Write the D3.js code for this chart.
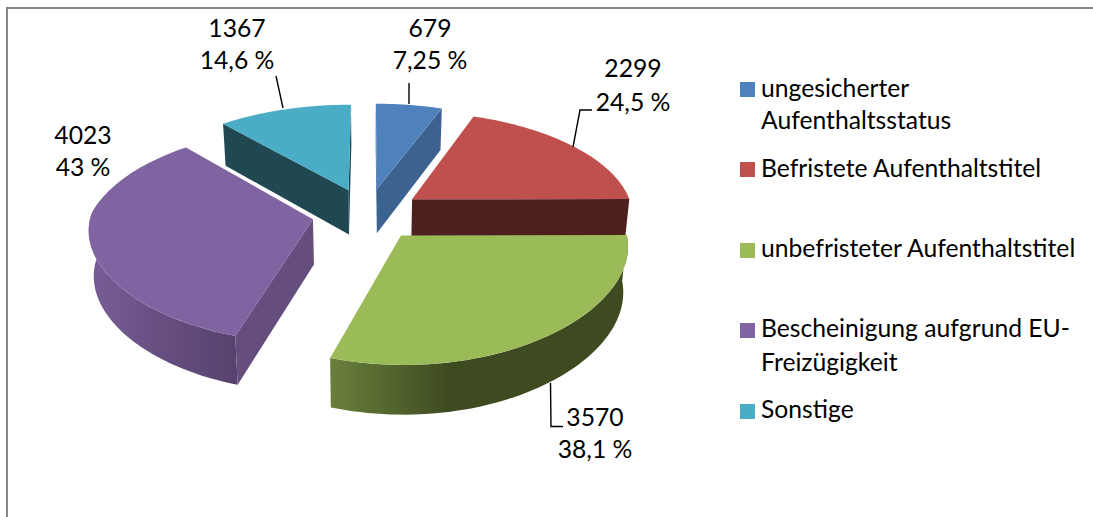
<!DOCTYPE html>
<html><head><meta charset="utf-8">
<script src="https://cdn.jsdelivr.net/npm/d3@7"></script>
<style>html,body{margin:0;padding:0;background:#fff}svg{display:block}text{font-family:Lato,"Open Sans",sans-serif;fill:#000}</style>
</head><body><svg id="c" width="1093" height="517"></svg>
<script>
const categories = ["ungesicherter Aufenthaltsstatus","Befristete Aufenthaltstitel","unbefristeter Aufenthaltstitel","Bescheinigung aufgrund EU-Freizügigkeit","Sonstige"];
const legendLines = [["ungesicherter","Aufenthaltsstatus"],["Befristete Aufenthaltstitel"],["unbefristeter Aufenthaltstitel"],["Bescheinigung aufgrund EU-","Freizügigkeit"],["Sonstige"]];
const values = [679,2299,3570,4023,1367];
const percentLabels = ["7,25 %","24,5 %","38,1 %","43 %","14,6 %"];
const topColors = ["#4f81bd","#c0504d","#9bbb59","#8064a2","#4bacc6"];
const wallColors = ["#3c6390","#4e1f1f","#3e4a20","#654e7e","#1f4852"];

const W=1093,H=517, FS=24.7;
const svg=d3.select("#c");
const defs=svg.append("defs");
// frame (open at right and bottom)
svg.append("path").attr("d",d3.line()([[7,H],[7,8],[W,8]])).attr("fill","none").attr("stroke","#868686").attr("stroke-width",2);

// projection of the exploded disc (disc units, radius 1)
const cx=367.5, cy=214, Rx=222, RyBack=105, RyFront=103, Py=0.15, PxBack=0.15, PxFront=0.085, EXPL=0.25, DEPTH=45, BOTTOM=0.982;
const sy=v=>1/(1-Py*v);
const sx=v=>1/(1-(v>0?PxFront:PxBack)*v);
const ry=v=>v<0?RyBack:RyFront;
const top3=(u,v)=>[cx+Rx*u*sx(v), cy+ry(v)*v*sy(v)];
const bot3=(u,v)=>[cx+Rx*u*sx(v)*BOTTOM, cy+ry(v)*v*sy(v)+DEPTH*Math.sqrt(sy(v))];

const arcs=d3.pie().sort(null).value(d=>d)(values);
const line=d3.line();
function sliceGeom(a){
  const mid=(a.startAngle+a.endAngle)/2;
  const ox=EXPL*Math.sin(mid), oy=-EXPL*Math.cos(mid);
  const pt=(th,r=1)=>[ox+r*Math.sin(th), oy-r*Math.cos(th)];
  const n=Math.max(4,Math.ceil((a.endAngle-a.startAngle)*40));
  const ths=d3.range(n+1).map(i=>a.startAngle+(a.endAngle-a.startAngle)*i/n);
  return {pt,ths,apex:pt(0,0)};
}
function radialWall(g,th,fill,parent){
  const A=g.apex,B=g.pt(th);
  parent.append("path").attr("d",line([top3(...A),top3(...B),bot3(...B),bot3(...A)])+"Z").attr("fill",fill);
}
function outerWall(g,from,to,fill,parent){
  const n=60, t=d3.range(n+1).map(i=>from+(to-from)*i/n);
  const up=t.map(th=>top3(...g.pt(th))), dn=t.map(th=>bot3(...g.pt(th))).reverse();
  parent.append("path").attr("d",line(up.concat(dn))+"Z").attr("fill",fill);
}
function topFace(g,fill,parent){
  const pts=[top3(...g.apex)].concat(g.ths.map(th=>top3(...g.pt(th))));
  parent.append("path").attr("d",line(pts)+"Z").attr("fill",fill);
}
function hGrad(id,x1,x2,stops){
  const gr=defs.append("linearGradient").attr("id",id).attr("gradientUnits","userSpaceOnUse").attr("x1",x1).attr("x2",x2).attr("y1",0).attr("y2",0);
  stops.forEach(s=>gr.append("stop").attr("offset",s[0]).attr("stop-color",s[1]));
  return `url(#${id})`;
}
const plot=svg.append("g");
const G=arcs.map(sliceGeom);
const [BL,RE,GR,PU,TE]=[0,1,2,3,4];

// back to front: teal, blue, red, purple, green
radialWall(G[TE],arcs[TE].startAngle,wallColors[TE],plot);
radialWall(G[TE],arcs[TE].endAngle,wallColors[TE],plot);
topFace(G[TE],topColors[TE],plot);

radialWall(G[BL],arcs[BL].startAngle,wallColors[BL],plot);
radialWall(G[BL],arcs[BL].endAngle,wallColors[BL],plot);
topFace(G[BL],topColors[BL],plot);

radialWall(G[RE],arcs[RE].endAngle,wallColors[RE],plot);
topFace(G[RE],topColors[RE],plot);

const purpleFill=hGrad("gp",95,234,[[0,"#765c94"],[0.5,"#664e80"],[1,"#57426f"]]);
outerWall(G[PU],arcs[PU].startAngle,Math.PI*1.56,purpleFill,plot);
radialWall(G[PU],arcs[PU].startAngle,wallColors[PU],plot);
topFace(G[PU],topColors[PU],plot);

const greenFill=hGrad("gg",330,450,[[0,"#6b7f3c"],[0.5,"#52662f"],[1,"#3e4a20"]]);
outerWall(G[GR],Math.PI/2,arcs[GR].endAngle,greenFill,plot);
topFace(G[GR],topColors[GR],plot);

// leader lines
const leaderPts=[
  [[409,83],[409,104]],
  [[592,110],[580,110],[573,147]],
  [[563,426.5],[551,426.5],[550.5,383]],
  [],
  [[276,76],[283,108]]
];
leaderPts.forEach(p=>{ if(p.length) svg.append("path").attr("d",line(p)).attr("fill","none").attr("stroke","#000").attr("stroke-width",1.4);});

// data labels
const labelPos=[[430,37,69],[633,77,111],[595,426,458],[83,144,176],[237,37,69]];
values.forEach((v,i)=>{
  const [x,y1,y2]=labelPos[i];
  const g=svg.append("g").attr("text-anchor","middle").style("font-size",FS+"px");
  g.append("text").attr("x",x).attr("y",y1).text(v);
  g.append("text").attr("x",x).attr("y",y2).text(percentLabels[i]);
});

// legend
const legendY=[[97,129],[177],[257],[337,371],[418]];
const swatchY=[82,162,243,323,404];
categories.forEach((c,i)=>{
  svg.append("rect").attr("x",740).attr("y",swatchY[i]).attr("width",15).attr("height",15).attr("fill",topColors[i]);
  legendLines[i].forEach((t,j)=>{
    svg.append("text").attr("x",761).attr("y",legendY[i][j]).style("font-size",FS+"px").text(t);
  });
});
</script></body></html>
